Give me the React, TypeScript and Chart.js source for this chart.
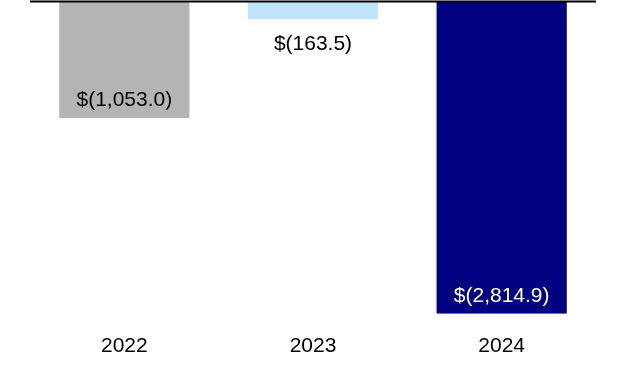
import React, { useEffect, useRef } from "react";
import { Chart, registerables } from "chart.js";

Chart.register(...registerables);

const categories = ["2022", "2023", "2024"];
const values = [-1053.0, -163.5, -2814.9];
const valueLabels = ["$(1,053.0)", "$(163.5)", "$(2,814.9)"];
const barColors = ["#b4b4b4", "#bfe4fb", "#000080"];
const labelColors = ["#000000", "#000000", "#ffffff"];

const FONT = "Liberation Sans, Arial, sans-serif";

const labelPlugin = {
  id: "valueLabels",
  afterDatasetsDraw(chart: any) {
    const ctx = chart.ctx;
    const meta = chart.getDatasetMeta(0);
    ctx.save();
    ctx.font = `21px ${FONT}`;
    ctx.textAlign = "center";
    ctx.textBaseline = "middle";
    meta.data.forEach((bar: any, i: number) => {
      const h = Math.abs(bar.y - bar.base);
      let y: number;
      if (h > 60) {
        y = bar.y - 18;
      } else {
        y = bar.y + 25;
      }
      ctx.fillStyle = labelColors[i];
      ctx.fillText(valueLabels[i], bar.x, y);
    });
    ctx.restore();
  },
};

const zeroLinePlugin = {
  id: "zeroLine",
  afterDatasetsDraw(chart: any) {
    const ctx = chart.ctx;
    const y = chart.scales.y.getPixelForValue(0);
    ctx.save();
    ctx.strokeStyle = "#000000";
    ctx.lineWidth = 2;
    ctx.beginPath();
    ctx.moveTo(chart.chartArea.left, y + 0.5);
    ctx.lineTo(chart.chartArea.right, y + 0.5);
    ctx.stroke();
    ctx.restore();
  },
};

export default function App() {
  const ref = useRef<HTMLCanvasElement | null>(null);
  useEffect(() => {
    if (!ref.current) return;
    const chart = new Chart(ref.current, {
      type: "bar",
      data: {
        labels: categories,
        datasets: [
          {
            data: values,
            backgroundColor: barColors,
            borderWidth: 0,
            barPercentage: 0.69,
            categoryPercentage: 1.0,
          },
        ],
      },
      options: {
        animation: false,
        responsive: false,
        maintainAspectRatio: false,
        layout: { padding: { left: 30, right: 28, top: 1, bottom: 5 } },
        plugins: { legend: { display: false }, tooltip: { enabled: false } },
        scales: {
          x: {
            grid: { display: false, drawTicks: false },
            border: { display: false },
            ticks: {
              color: "#000000",
              font: { family: FONT, size: 21 },
              padding: 20,
            },
          },
          y: {
            display: false,
            min: -2814.9,
            max: 0,
          },
        },
      },
      plugins: [labelPlugin, zeroLinePlugin],
    });
    return () => chart.destroy();
  }, []);
  return (
    <div style={{ position: "fixed", left: 0, top: 0, width: 624, height: 384, background: "#fff" }}>
      <canvas ref={ref} width={624} height={384} />
    </div>
  );
}
